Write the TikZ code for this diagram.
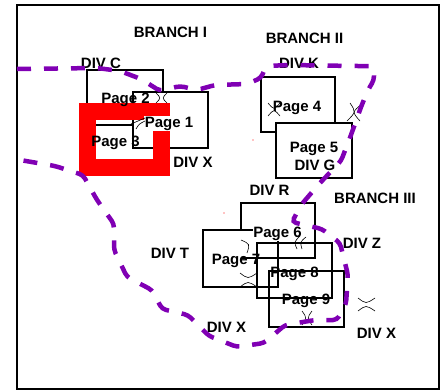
\documentclass[tikz,border=0pt]{standalone}
\usepackage{fontspec}
\setmainfont{Liberation Sans}
\definecolor{divpurple}{RGB}{128,0,180}
\begin{document}
\begin{tikzpicture}[x=1pt,y=-1pt,
  lbl/.style={font=\bfseries\fontsize{15}{18}\selectfont, inner sep=0pt, anchor=base},
  pbox/.style={draw=black, line width=1.7pt},
  divline/.style={draw=divpurple, line width=4.5pt, dash pattern=on 14pt off 13pt, rounded corners=4pt},
  brk/.style={draw=black, line width=0.6pt},
  redframe/.style={draw=red, line width=17pt, line join=miter}]
\useasboundingbox (0,0) rectangle (442,391);
% outer frame
\draw[line width=2pt] (17,5) rectangle (438.5,389);
% branch I boxes
\draw[pbox] (87,70) rectangle (163,125);
\draw[pbox, fill=white] (133,92) rectangle (208,148);
% branch II boxes
\draw[pbox] (261,77) rectangle (335,132);
\draw[pbox, fill=white] (276,123) rectangle (352,178);
% branch III boxes
\draw[pbox] (241,230) -- (241,203) -- (315,203) -- (315,258) -- (241,258);
\draw[pbox] (203,230) rectangle (278,287);
\draw[pbox] (257,243) rectangle (332,298);
\draw[pbox] (269,271) rectangle (344,327);
% red frame
\draw[redframe] (87.5,111.5) rectangle (161.5,167.5);
% white patch behind the Page 1 label
\fill[white] (143.5,115.5) rectangle (195,131);
% labels
\node[lbl] (b1) at (170.5,37) {BRANCH I};
\node[lbl] (dc) at (101,68) {DIV C};
\node[lbl] (p2) at (125.5,103) {Page 2};
\node[lbl] (p1) at (169,127.5) {Page 1};
\node[lbl] (p3) at (115.5,146) {Page 3};
\node[lbl] (dx1) at (193,167) {DIV X};
\node[lbl] (b2) at (304.5,43) {BRANCH II};
\node[lbl] (dk) at (299,68.5) {DIV K};
\node[lbl] (p4) at (297,111) {Page 4};
\node[lbl] (p5) at (314,152.5) {Page 5};
\node[lbl] (dg) at (315,170.5) {DIV G};
\node[lbl] (dr) at (269.5,195) {DIV R};
\node[lbl] (b3) at (375,203) {BRANCH III};
\node[lbl, fill=white, text height=11pt, text depth=3pt, inner sep=0.8pt] (p6) at (277.5,237) {Page 6};
\node[lbl] (p7) at (236,264) {Page 7};
\node[lbl] (dt) at (170,258) {DIV T};
\node[lbl] (dz) at (362,248.5) {DIV Z};
\node[lbl] (p8) at (294.5,277) {Page 8};
\node[lbl] (p9) at (306,304) {Page 9};
\node[lbl] (dx2) at (226.5,332) {DIV X};
\node[lbl] (dx3) at (376.5,338) {DIV X};
% small break marks
\draw[brk] (156,93) .. controls (161,98) .. (156,103);
\draw[brk] (167,93) .. controls (162,98) .. (167,103);
\draw[brk] (131,124) .. controls (138,121) .. (145,118);
\draw[brk] (136,129) .. controls (139,124) .. (145,121);
\draw[brk] (268,103) .. controls (274,110) .. (280,103);
\draw[brk] (268,116) .. controls (274,109) .. (280,116);
\draw[brk] (350,103) .. controls (356,112) .. (347,121);
\draw[brk] (362,104) .. controls (352,112) .. (360,121);
\draw[brk] (241,240) .. controls (250,244) .. (247,253);
\draw[brk] (300,236) .. controls (294,242) .. (297,249);
\draw[brk] (306,237) .. controls (300,242) .. (302,249);
\draw[brk] (240,273) .. controls (248,279) .. (257,273);
\draw[brk] (240,287) .. controls (248,281) .. (257,287);
\draw[brk] (302,311) .. controls (307,318) .. (302,325);
\draw[brk] (312,311) .. controls (307,318) .. (312,325);
\draw[brk] (358,298) .. controls (366,304) .. (375,298);
\draw[brk] (358,311) .. controls (366,305) .. (375,311);
% tiny red dots
\fill[red] (253,140) circle (0.7);
\fill[red] (224,213) circle (0.7);
% purple division boundary
\draw[divline] (17,69) -- (97,68) -- (120,71) -- (141,79) -- (160,91) -- (180,86) -- (197,90) -- (215,85) -- (247,84) -- (261,78) -- (266,66) -- (290,65) -- (354,66) -- (374,66) -- (374,80) -- (368,90) -- (361,107) -- (351,135) -- (341,161) -- (319,184) -- (301,205) -- (292,222) -- (322,229) -- (340,243) -- (348,275) -- (346,304) -- (337,320) -- (315,320) -- (285,325) -- (264,343) -- (237,347) -- (209,336) -- (188,315) -- (162,309) -- (152,290) -- (127,277) -- (114,250) -- (114,224) -- (97,200) -- (83,175) -- (55,166) -- (20,160);
\end{tikzpicture}
\end{document}
